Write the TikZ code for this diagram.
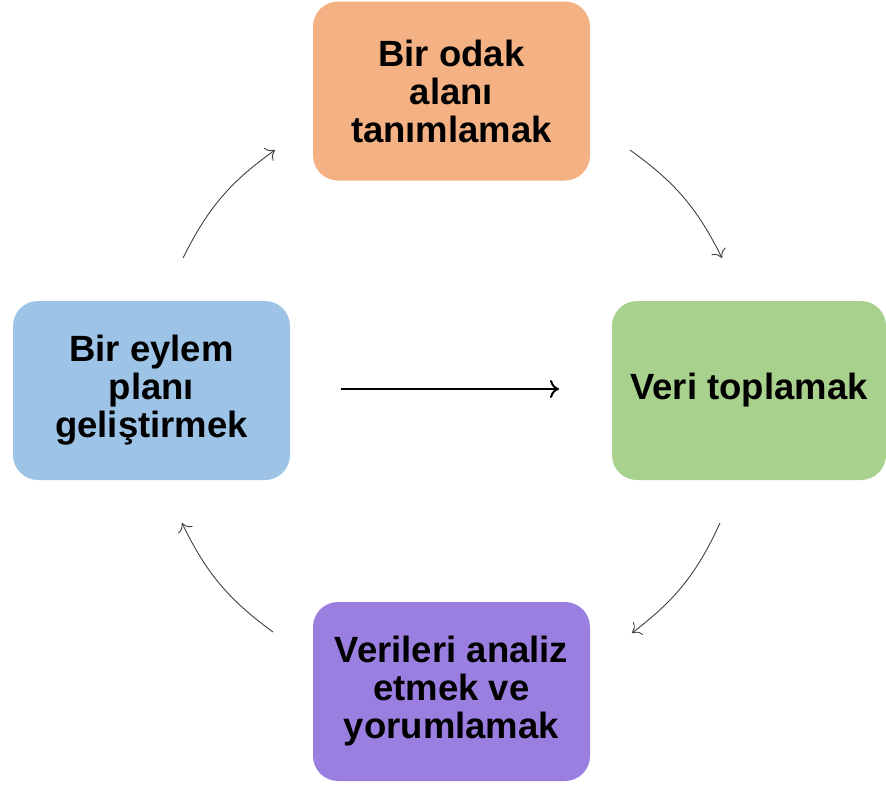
\documentclass[tikz,border=0pt]{standalone}
\usepackage{fontspec}
\setmainfont{Liberation Sans}
\usetikzlibrary{arrows.meta}
\definecolor{cOrange}{HTML}{F4B183}
\definecolor{cGreen}{HTML}{A9D18E}
\definecolor{cBlue}{HTML}{9DC3E6}
\definecolor{cPurple}{HTML}{9B7FE0}
\definecolor{cArc}{HTML}{404040}
\begin{document}
\begin{tikzpicture}[x=1pt,y=-1pt,
  box/.style={rounded corners=25pt, minimum width=277pt, minimum height=179pt,
    inner sep=0pt, align=center, text=black,
    font=\fontsize{36.5}{38}\selectfont\bfseries},
  cyc/.style={draw=cArc, line width=0.9pt, -{To[length=8pt,width=16pt]}},
  mid/.style={draw=black, line width=2pt, -{To[length=9pt,width=18pt]}}]
\useasboundingbox (0,0) rectangle (886,785);
\node[box, fill=cOrange] (top) at (451.5,91) {Bir odak\\alanı\\tanımlamak};
\node[box, fill=cBlue] (left) at (151.5,390.5) {Bir eylem\\planı\\geliştirmek};
\node[box, fill=cGreen, minimum width=274pt] (right) at (749,390.5) {Veri toplamak};
\node[box, fill=cPurple] (bot) at (451.5,691.5) {Verileri analiz\\etmek ve\\yorumlamak};
\coordinate (a1) at (183,258);
\coordinate (a2) at (275,150);
\coordinate (b1) at (630,150);
\coordinate (b2) at (722,258);
\coordinate (c1) at (720,523);
\coordinate (c2) at (632,633);
\coordinate (d1) at (273,632);
\coordinate (d2) at (182,523);
\coordinate (m1) at (341,389);
\coordinate (m2) at (559,389);
\draw[cyc] (a1) to[bend left=14] (a2);
\draw[cyc] (b1) to[bend left=14] (b2);
\draw[cyc] (c1) to[bend left=14] (c2);
\draw[cyc] (d1) to[bend left=14] (d2);
\draw[mid] (m1) -- (m2);
\end{tikzpicture}
\end{document}
